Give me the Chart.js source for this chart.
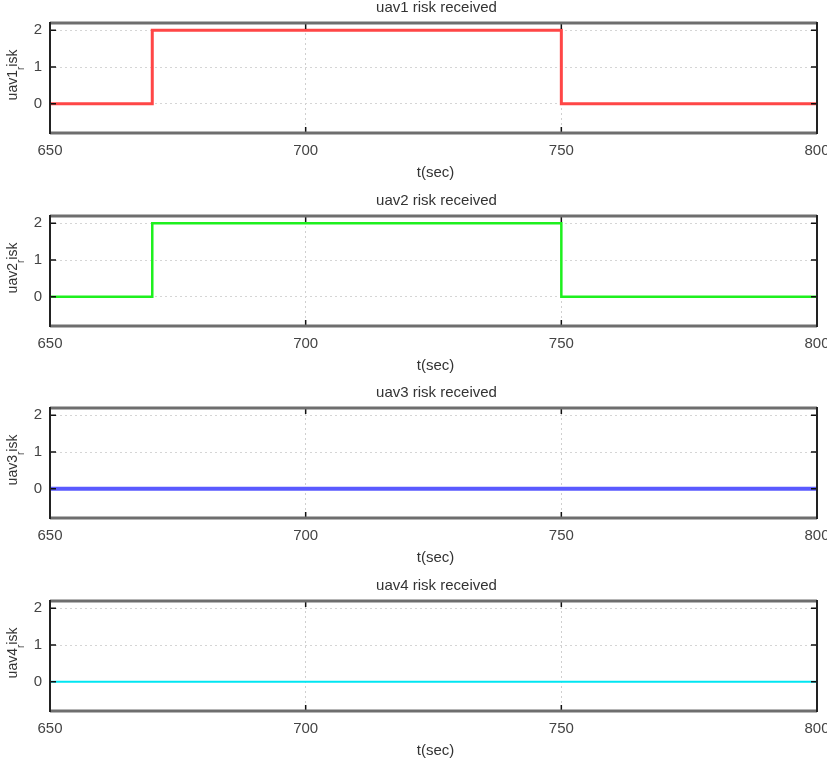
<!DOCTYPE html>
<html>
<head>
<meta charset="utf-8">
<script src="https://cdn.jsdelivr.net/npm/chart.js@4.4.1/dist/chart.umd.min.js"></script>
<style>
  html, body { margin: 0; padding: 0; background: #fff; overflow: hidden; }
  body { width: 827px; height: 763px; position: relative; }
  .panel { position: absolute; left: 0; width: 827px; height: 192px; }
</style>
</head>
<body>
<div class="panel" style="top:0px"><canvas id="c1" width="827" height="192"></canvas></div>
<div class="panel" style="top:193px"><canvas id="c2" width="827" height="192"></canvas></div>
<div class="panel" style="top:385px"><canvas id="c3" width="827" height="192"></canvas></div>
<div class="panel" style="top:578px"><canvas id="c4" width="827" height="192"></canvas></div>
<script>
(() => {
  'use strict'
  // time (sec) where the signal changes, value holds until next point
  const t = [650, 670, 750, 800]
  const uav1Risk = [0, 2, 0, 0]
  const uav2Risk = [0, 2, 0, 0]
  const uav3Risk = [0, 0, 0, 0]
  const uav4Risk = [0, 0, 0, 0]

  const xTicks = [650, 700, 750, 800]
  const yTicks = [0, 1, 2]
  const titles = ['uav1 risk received', 'uav2 risk received', 'uav3 risk received', 'uav4 risk received']
  const yNames = ['uav1', 'uav2', 'uav3', 'uav4']
  const xName = 't(sec)'

  const FONT = '"Liberation Sans", Arial, sans-serif'

  // frame, inner ticks, title and axis labels (y label has the "_r" subscript)
  const framePlugin = {
    id: 'frame',
    afterDatasetsDraw(chart, args, opts) {
      const ctx = chart.ctx
      const a = chart.chartArea
      const xs = chart.scales.x
      const ys = chart.scales.y
      const cx = (a.left + a.right) / 2
      ctx.save()
      // inner tick marks
      ctx.strokeStyle = '#111'
      ctx.lineWidth = 1.5
      ctx.beginPath()
      yTicks.forEach(v => {
        const py = ys.getPixelForValue(v)
        ctx.moveTo(a.left, py); ctx.lineTo(a.left + 6, py)
        ctx.moveTo(a.right, py); ctx.lineTo(a.right - 6, py)
      })
      xTicks.forEach(v => {
        const px = xs.getPixelForValue(v)
        ctx.moveTo(px, a.top); ctx.lineTo(px, a.top + 6)
        ctx.moveTo(px, a.bottom); ctx.lineTo(px, a.bottom - 6)
      })
      ctx.stroke()
      // box
      ctx.strokeStyle = '#6e6e6e'
      ctx.lineWidth = 3
      ctx.beginPath()
      ctx.moveTo(a.left, a.top); ctx.lineTo(a.right, a.top)
      ctx.moveTo(a.left, a.bottom); ctx.lineTo(a.right, a.bottom)
      ctx.stroke()
      ctx.strokeStyle = '#222'
      ctx.lineWidth = 2
      ctx.beginPath()
      ctx.moveTo(a.left, a.top - 1); ctx.lineTo(a.left, a.bottom + 1)
      ctx.moveTo(a.right, a.top - 1); ctx.lineTo(a.right, a.bottom + 1)
      ctx.stroke()

      // title + x label
      ctx.fillStyle = '#333'
      ctx.font = '15px ' + FONT
      ctx.textAlign = 'center'
      ctx.textBaseline = 'middle'
      ctx.fillText(opts.title, cx + 3, a.top - 15)
      ctx.fillText(xName, cx + 2, a.bottom + 40)

      // y label: name + subscript r + isk, rotated
      const main = '14px ' + FONT
      const sub = '10px ' + FONT
      ctx.font = main
      const w1 = ctx.measureText(opts.name).width
      const w3 = ctx.measureText('isk').width
      ctx.font = sub
      const w2 = ctx.measureText('r').width
      const total = w1 + w2 + w3
      ctx.translate(17, (a.top + a.bottom) / 2 - 3)
      ctx.rotate(-Math.PI / 2)
      ctx.textAlign = 'left'
      ctx.textBaseline = 'alphabetic'
      let x0 = -total / 2
      ctx.font = main
      ctx.fillText(opts.name, x0, 0)
      x0 += w1
      ctx.font = sub
      ctx.fillText('r', x0, 7)
      x0 += w2
      ctx.font = main
      ctx.fillText('isk', x0, 0)
      ctx.restore()
    }
  }

  function makeChart(id, title, name, values, color, width) {
    return new Chart(document.getElementById(id), {
      type: 'line',
      data: {
        datasets: [{
          data: t.map((x, i) => ({ x: x, y: values[i] })),
          stepped: 'before',
          borderColor: color,
          borderWidth: width,
          pointRadius: 0,
          fill: false
        }]
      },
      options: {
        responsive: false,
        animation: false,
        events: [],
        layout: { padding: { left: 0, right: 10, top: 23, bottom: 0 } },
        scales: {
          x: {
            type: 'linear',
            min: 650,
            max: 800,
            afterBuildTicks: s => { s.ticks = xTicks.map(v => ({ value: v })) },
            afterFit: s => { s.height = 59; s.paddingLeft = 0; s.paddingRight = 0 },
            ticks: { color: '#444', font: { family: FONT, size: 15 }, padding: 9, maxRotation: 0 },
            grid: { color: '#cfcfcf', lineWidth: 1, drawTicks: false },
            border: { display: false, dash: [2, 3] }
          },
          y: {
            min: -0.8,
            max: 2.2,
            afterBuildTicks: s => { s.ticks = yTicks.map(v => ({ value: v })) },
            afterFit: s => { s.width = 50; s.paddingTop = 0; s.paddingBottom = 0 },
            ticks: { color: '#444', font: { family: FONT, size: 15 }, padding: 8 },
            grid: { color: '#d5d5d5', lineWidth: 1, drawTicks: false },
            border: { display: false, dash: [2, 3] }
          }
        },
        plugins: {
          legend: { display: false },
          tooltip: { enabled: false },
          title: { display: false },
          frame: { name: name, title: title }
        }
      },
      plugins: [framePlugin]
    })
  }

  makeChart('c1', titles[0], yNames[0], uav1Risk, '#ff4646', 3)
  makeChart('c2', titles[1], yNames[1], uav2Risk, '#1ef01e', 2.5)
  makeChart('c3', titles[2], yNames[2], uav3Risk, '#5a5aff', 4)
  makeChart('c4', titles[3], yNames[3], uav4Risk, '#00e6f2', 2)
})()
</script>
</body>
</html>
